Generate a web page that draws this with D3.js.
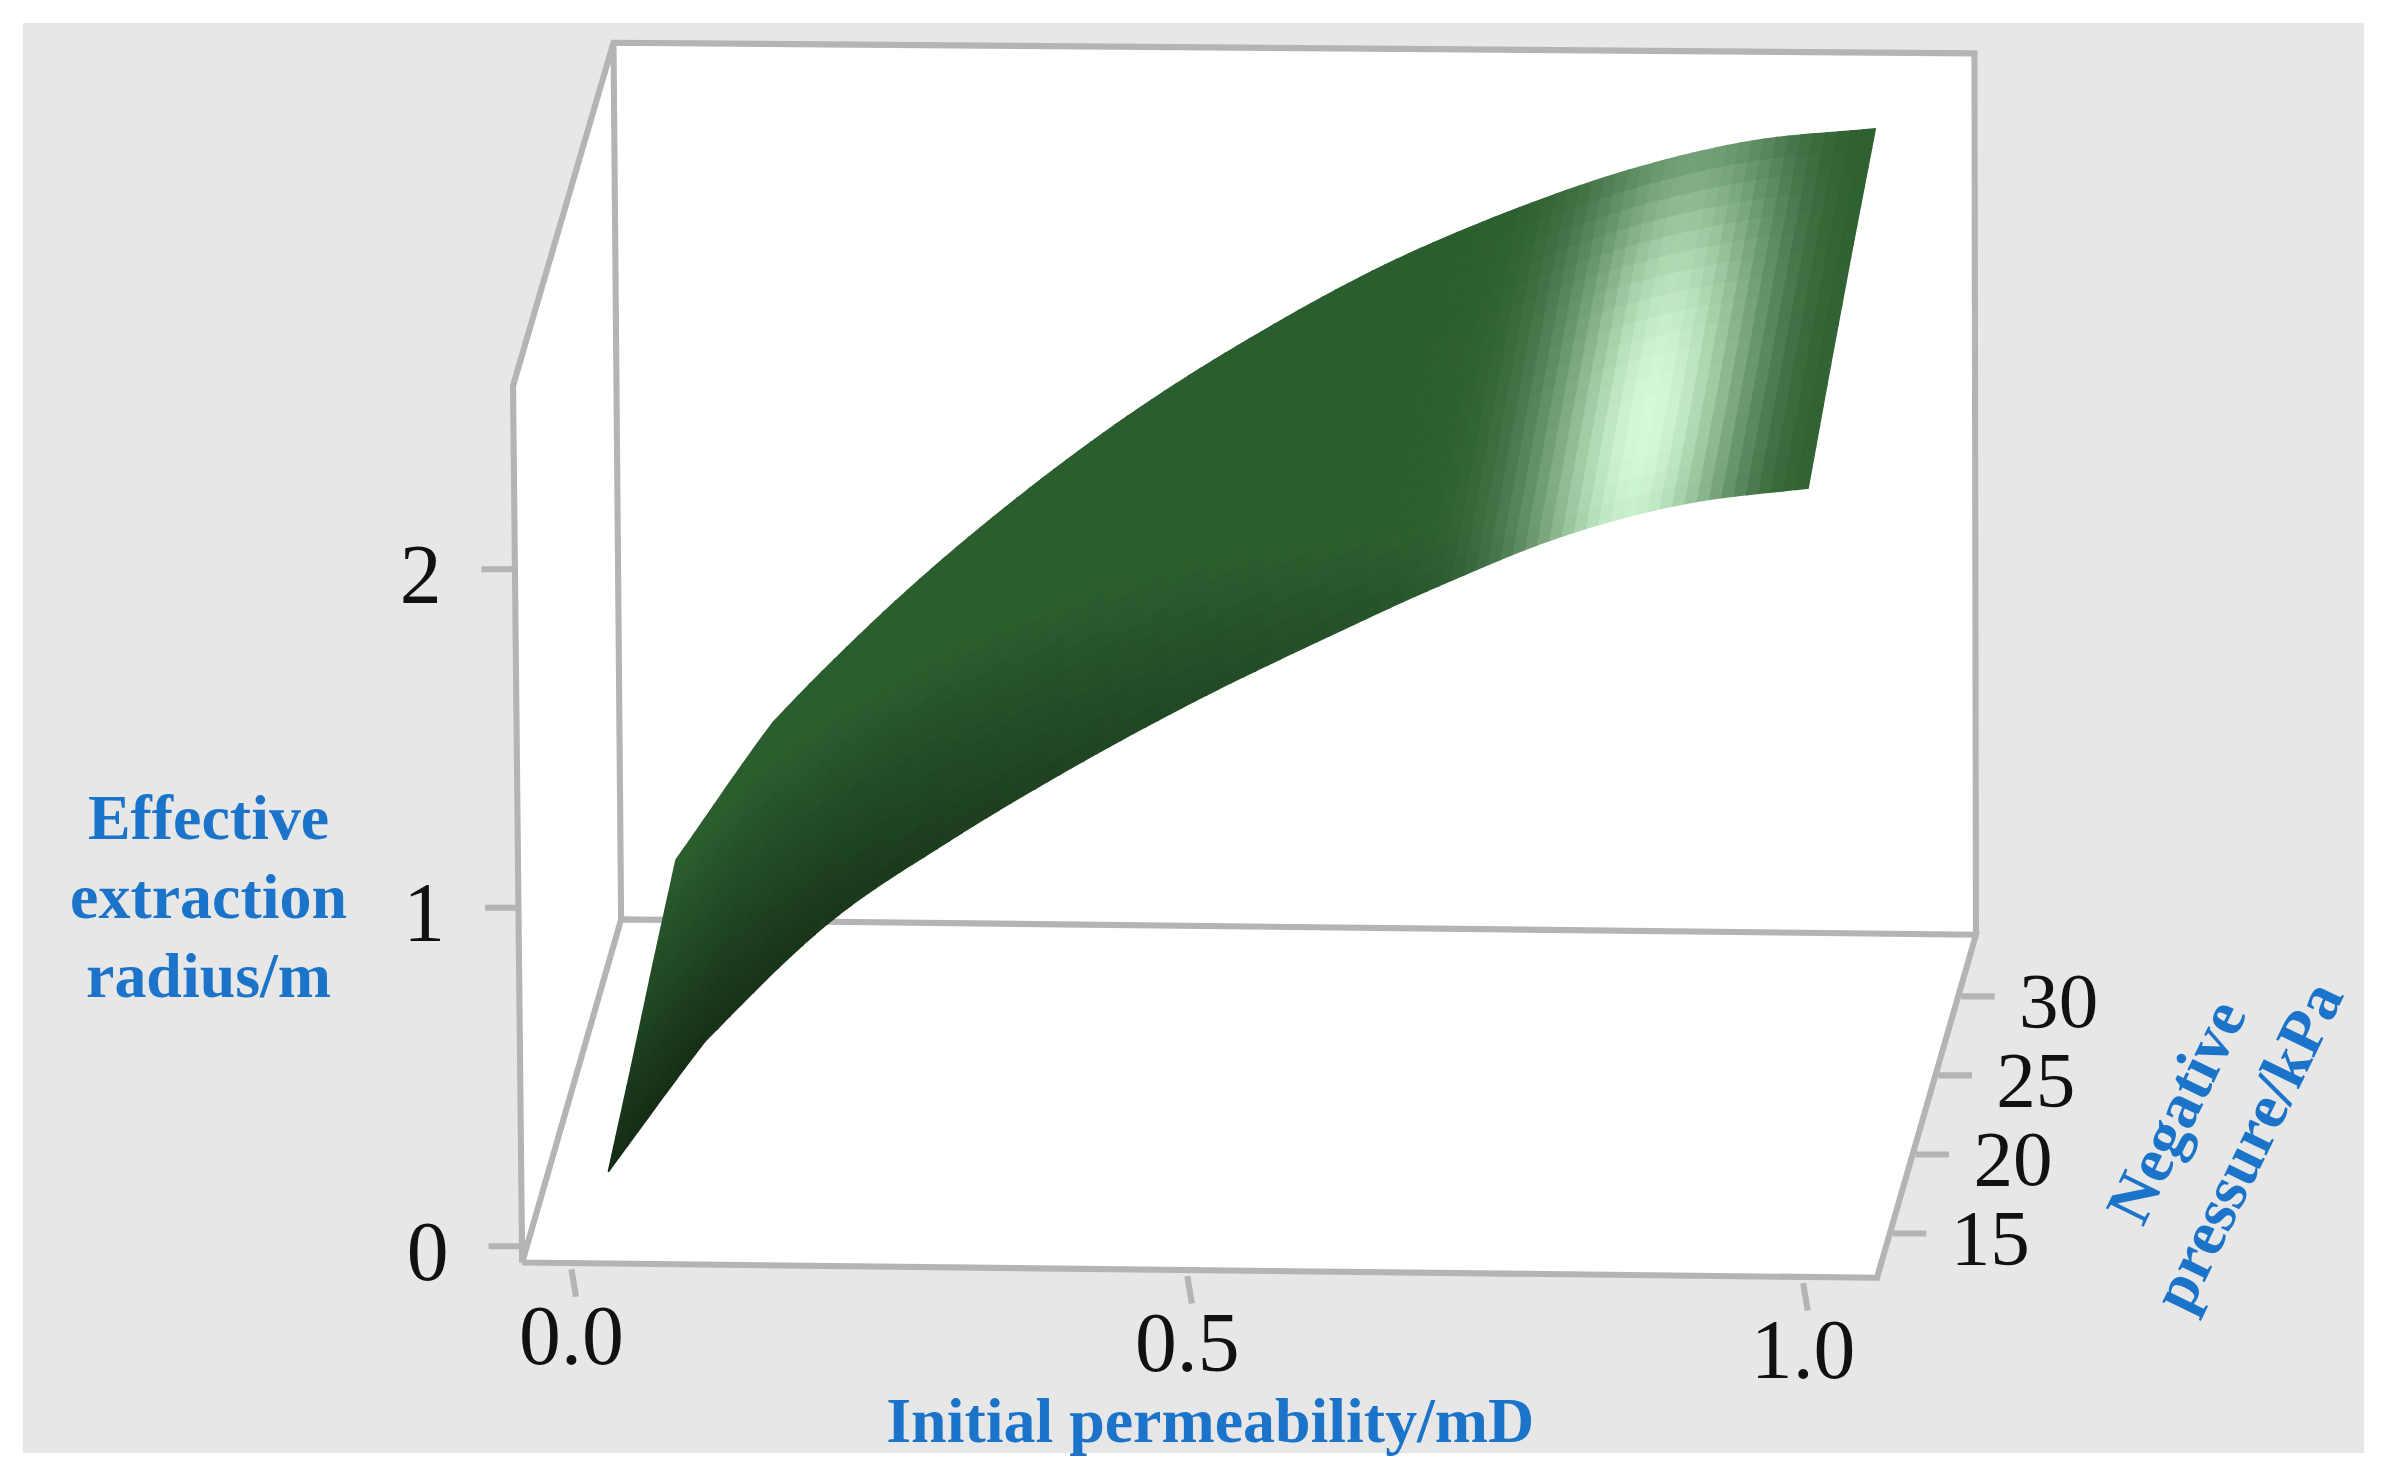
<!DOCTYPE html>
<html>
<head>
<meta charset="utf-8">
<script src="https://cdn.jsdelivr.net/npm/d3@7"></script>
<style>
body { margin: 0; background: #fff; }
</style>
</head>
<body>
<div id="chart"></div>
<script>
// surface grid: initial permeability (mD) x negative pressure (kPa) -> radius (m)
var perm = [0.02, 0.1, 0.2, 0.3, 0.4, 0.5, 0.6, 0.7, 0.8, 0.9, 1.0];
var pressure = [15, 20, 25, 30];
var radius = [
    [0.11, 0.50, 0.85, 1.10, 1.32, 1.52, 1.70, 1.87, 2.02, 2.12, 2.17],
    [0.18, 0.57, 0.93, 1.20, 1.43, 1.65, 1.83, 2.00, 2.15, 2.24, 2.30],
    [0.26, 0.65, 1.00, 1.29, 1.55, 1.78, 1.97, 2.14, 2.28, 2.37, 2.42],
    [0.33, 0.74, 1.10, 1.41, 1.68, 1.91, 2.11, 2.27, 2.40, 2.49, 2.53]
];
var xTicks = [0.0, 0.5, 1.0];
var yTicks = [15, 20, 25, 30];
var zTicks = [0, 1, 2];

var W = 1568, H = 968;
var svg = d3.select("#chart").append("svg")
    .attr("width", 2387).attr("height", 1476)
    .attr("viewBox", "0 0 " + W + " " + H)
    .attr("preserveAspectRatio", "none");

// projection of the box
var origin = [343, 828];          // front-bottom-left corner
var xVec = [890, 10];
var yVec = [65, -225];
var zVec = [-6, -575];
var xs = d3.scaleLinear().domain([-0.04, 1.06]).range([0, 1]);
var ys = d3.scaleLinear().domain([12.2, 33.9]).range([0, 1]);
var zs = d3.scaleLinear().domain([-0.03, 2.56]).range([0, 1]);

function proj(fx, fy, fz) {
    return [origin[0] + fx * xVec[0] + fy * yVec[0] + fz * zVec[0],
            origin[1] + fx * xVec[1] + fy * yVec[1] + fz * zVec[1]];
}
function P(k, p, r) { return proj(xs(k), ys(p), zs(r)); }

svg.append("rect").attr("width", W).attr("height", H).attr("fill", "#fff");
svg.append("rect").attr("x", 15).attr("y", 15).attr("width", W - 30).attr("height", H - 30).attr("fill", "#e7e7e7");

var c = {
    fbl: proj(0, 0, 0), fbr: proj(1, 0, 0), bbl: proj(0, 1, 0), bbr: proj(1, 1, 0)
};
c.ftl = [337, 253];
c.btl = [403, 28]; c.btr = [1297, 35];

svg.append("polygon")
    .attr("points", [c.ftl, c.btl, c.btr, c.bbr, c.fbr, c.fbl].map(function(d){ return d.join(","); }).join(" "))
    .attr("fill", "#fff");

var line = d3.line();
function edge(pts) {
    svg.append("path").attr("d", line(pts))
        .attr("stroke", "#b4b4b4").attr("stroke-width", 4).attr("fill", "none");
}
edge([c.fbl, c.fbr, c.bbr, c.bbl, c.fbl]);
edge([c.fbl, c.ftl, c.btl, c.btr, c.bbr]);
edge([c.bbl, c.btl]);

// smooth radius along k within one pressure row (Catmull-Rom)
function rowValue(row, i, u) {
    var n = row.length;
    var p0 = row[Math.max(0, i - 1)], p1 = row[i], p2 = row[i + 1], p3 = row[Math.min(n - 1, i + 2)];
    if (i === 0) p0 = 2 * p1 - p2;
    if (i + 2 > n - 1) p3 = 2 * p2 - p1;
    var u2 = u * u, u3 = u2 * u;
    return 0.5 * ((2 * p1) + (-p0 + p2) * u + (2 * p0 - 5 * p1 + 4 * p2 - p3) * u2 + (-p0 + 3 * p1 - 3 * p2 + p3) * u3);
}

// surface colour
var dark = d3.rgb("#142a15"), mid = d3.rgb("#2b5e2f"), top = d3.rgb("#52ab59"), glow = d3.rgb("#d4fad6");
function shade(k, p) {
    var t = k * 0.6 + (p - 15) / 15 * 0.5;
    var col = t < 0.5 ? d3.interpolateRgb(dark, mid)(t / 0.5) : d3.interpolateRgb(mid, top)(Math.min(1, (t - 0.5) / 0.5));
    var h = Math.exp(-Math.pow((k - 0.855) / 0.085, 2)) * Math.max(0, 1 - Math.pow((p - 19) / 14, 2));
    var edgeDark = Math.exp(-Math.pow((k - 1.0) / 0.05, 2)) * 0.5;
    col = d3.interpolateRgb(col, glow)(h);
    col = d3.interpolateRgb(col, "#2c5e30")(edgeDark);
    return col;
}

var subK = 10, subP = 6;
var g = svg.append("g");
for (var j = 0; j < pressure.length - 1; j++) {
    for (var i = 0; i < perm.length - 1; i++) {
        for (var a = 0; a < subK; a++) {
            for (var b = 0; b < subP; b++) {
                var u0 = a / subK, u1 = (a + 1) / subK, v0 = b / subP, v1 = (b + 1) / subP;
                var pt = function(u, v) {
                    var k = perm[i] + (perm[i + 1] - perm[i]) * u;
                    var p = pressure[j] + (pressure[j + 1] - pressure[j]) * v;
                    var r = (1 - v) * rowValue(radius[j], i, u) + v * rowValue(radius[j + 1], i, u);
                    return P(k, p, r);
                };
                var kc = perm[i] + (perm[i + 1] - perm[i]) * (u0 + u1) / 2;
                var pc = pressure[j] + (pressure[j + 1] - pressure[j]) * (v0 + v1) / 2;
                var col = shade(kc, pc);
                g.append("polygon")
                    .attr("points", [pt(u0, v0), pt(u1, v0), pt(u1, v1), pt(u0, v1)].map(function(d){ return d.join(","); }).join(" "))
                    .attr("fill", col).attr("stroke", col).attr("stroke-width", 1);
            }
        }
    }
}

var tickFont = "'Liberation Serif', 'Times New Roman', serif";
zTicks.forEach(function(z) {
    var p0 = [343 - 6 * zs(z), 828 - 575 * zs(z) - 4];
    svg.append("line").attr("x1", p0[0] - 22).attr("y1", p0[1]).attr("x2", p0[0]).attr("y2", p0[1])
        .attr("stroke", "#b4b4b4").attr("stroke-width", 4);
    svg.append("text").attr("x", p0[0] - 62).attr("y", p0[1] + 22).attr("text-anchor", "middle")
        .attr("font-family", tickFont).attr("font-size", 55).attr("fill", "#111").text(z);
});
xTicks.forEach(function(k) {
    var p0 = proj(xs(k), 0, 0);
    svg.append("line").attr("x1", p0[0]).attr("y1", p0[1] + 4).attr("x2", p0[0] + 3).attr("y2", p0[1] + 22)
        .attr("stroke", "#b4b4b4").attr("stroke-width", 4);
    svg.append("text").attr("x", p0[0]).attr("y", p0[1] + 66).attr("text-anchor", "middle")
        .attr("font-family", tickFont).attr("font-size", 55).attr("fill", "#111").text(d3.format(".1f")(k));
});
yTicks.forEach(function(p) {
    var p0 = proj(1, ys(p), 0);
    svg.append("line").attr("x1", p0[0] + 2).attr("y1", p0[1]).attr("x2", p0[0] + 24).attr("y2", p0[1])
        .attr("stroke", "#b4b4b4").attr("stroke-width", 4);
    svg.append("text").attr("x", p0[0] + 40).attr("y", p0[1] + 20).attr("text-anchor", "start")
        .attr("font-family", tickFont).attr("font-size", 52).attr("fill", "#111").text(p);
});

var blue = "#1b74c9";
function title(lines, x, y, rot) {
    var t = svg.append("text").attr("text-anchor", "middle")
        .attr("font-family", tickFont).attr("font-weight", "bold").attr("font-size", 42).attr("fill", blue)
        .attr("transform", "translate(" + x + "," + y + ") rotate(" + rot + ")");
    lines.forEach(function(s, i) {
        t.append("tspan").attr("x", 0).attr("dy", i === 0 ? 0 : 52).text(s);
    });
}
title(["Effective", "extraction", "radius/m"], 137, 550, 0);
title(["Initial permeability/mD"], 795, 946, 0);
title(["Negative", "pressure/kPa"], 1442, 735, -64);
</script>
</body>
</html>
